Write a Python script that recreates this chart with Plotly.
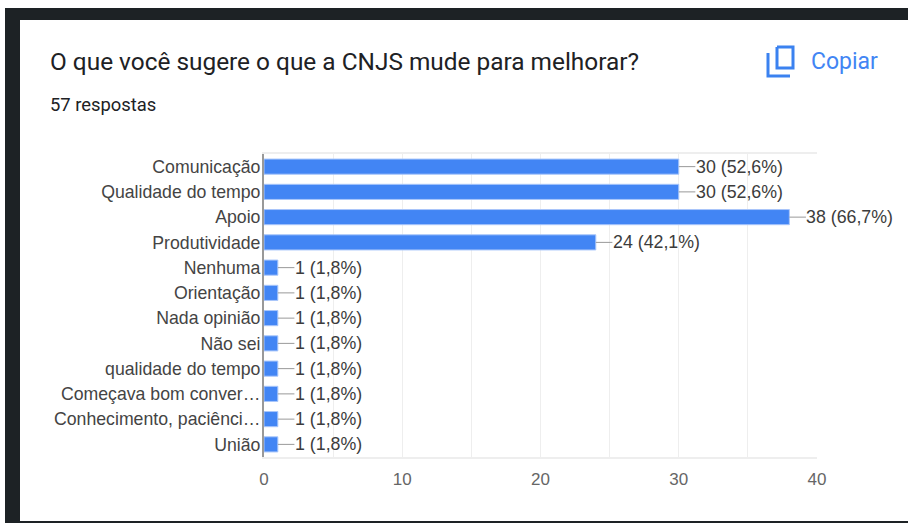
import plotly.graph_objects as go

categories = ["Comunicação", "Qualidade do tempo", "Apoio", "Produtividade", "Nenhuma", "Orientação",
              "Nada opinião", "Não sei", "qualidade do tempo", "Começava bom conver…",
              "Conhecimento, paciênci…", "União"]
values = [30, 30, 38, 24, 1, 1, 1, 1, 1, 1, 1, 1]
percent_labels = ["52,6%", "52,6%", "66,7%", "42,1%", "1,8%", "1,8%", "1,8%", "1,8%", "1,8%", "1,8%", "1,8%", "1,8%"]
title_text = "O que você sugere o que a CNJS mude para melhorar?"
subtitle_text = "57 respostas"
copy_text = "Copiar"
x_ticks = [0, 10, 20, 30, 40]

W, H = 908, 523
L, R, T, B = 264, 91, 154, 66
PW, PH = W - L - R, H - T - B
LABEL_FONT = "Liberation Sans, Arial, sans-serif"
UI_FONT = "Roboto, sans-serif"
BLUE = "#4285f4"
DARK = "#1d2225"


def px(x):
    return (x - L) / PW


def py(y):
    return 1 - (y - T) / PH


fig = go.Figure(go.Bar(
    x=values, y=categories, orientation="h", width=0.6,
    marker=dict(color=BLUE, line=dict(color="#a9c6fa", width=1)),
    error_x=dict(type="data", symmetric=False, array=[1.2] * len(values), arrayminus=[0] * len(values),
                 color="#999999", thickness=1, width=0),
    hoverinfo="skip",
))

annotations = [
    dict(x=v, y=c, xref="x", yref="y", xshift=15, xanchor="left", yanchor="middle", showarrow=False,
         text=f"{v} ({p})", font=dict(family=LABEL_FONT, size=17.8, color="#3c3c3c"))
    for c, v, p in zip(categories, values, percent_labels)
]
annotations += [
    dict(x=px(48), y=py(62), xref="paper", yref="paper", xanchor="left", yanchor="middle", showarrow=False,
         text=title_text, font=dict(family=UI_FONT, size=24.4, color="#202124")),
    dict(x=px(47.5), y=py(105), xref="paper", yref="paper", xanchor="left", yanchor="middle", showarrow=False,
         text=subtitle_text, font=dict(family=UI_FONT, size=18.4, color="#202124")),
    dict(x=px(809), y=py(62), xref="paper", yref="paper", xanchor="left", yanchor="middle", showarrow=False,
         text=copy_text, font=dict(family=UI_FONT, size=23, color=BLUE)),
]


def rect(x0, y0, x1, y1, color):
    return dict(type="rect", xref="paper", yref="paper", x0=px(x0), x1=px(x1), y0=py(y0), y1=py(y1),
                fillcolor=color, line=dict(width=0), layer="below")


def path(points, color, width=3):
    d = "M " + " L ".join(f"{px(a)},{py(b)}" for a, b in points)
    return dict(type="path", xref="paper", yref="paper", path=d, line=dict(color=color, width=width), layer="above")


shapes = [
    rect(5, 8, 908, 20, DARK),
    rect(5, 8, 20, 523, DARK),
    rect(5, 521, 908, 523, DARK),
    path([(777, 47), (793, 47), (793, 68), (777, 68), (777, 47)], "#3b82f0"),
    path([(768, 53), (768, 76), (790, 76)], "#3b82f0"),
]

fig.update_layout(
    width=W, height=H, margin=dict(l=L, r=R, t=T, b=B, pad=0),
    paper_bgcolor="white", plot_bgcolor="white", showlegend=False,
    annotations=annotations, shapes=shapes,
    xaxis=dict(range=[0, 40], tickmode="array", tickvals=x_ticks, ticks="", ticklabelstandoff=6,
               tickfont=dict(family=LABEL_FONT, size=17, color="#666666"),
               showgrid=True, gridcolor="#eeeeee", gridwidth=1, zeroline=False,
               minor=dict(dtick=5, showgrid=True, gridcolor="#eeeeee", gridwidth=1),
               showline=True, linecolor="#eeeeee", linewidth=2, mirror=True),
    yaxis=dict(categoryorder="array", categoryarray=categories, autorange="reversed", ticks="",
               ticklabelstandoff=-2,
               tickfont=dict(family=LABEL_FONT, size=17.7, color="#444444"),
               showline=True, linecolor="#999999", linewidth=2, showgrid=False, zeroline=False),
)

fig.write_html("out.html", config=dict(displayModeBar=False),
               post_script="document.body.style.margin='0';document.body.style.overflow='hidden';")
